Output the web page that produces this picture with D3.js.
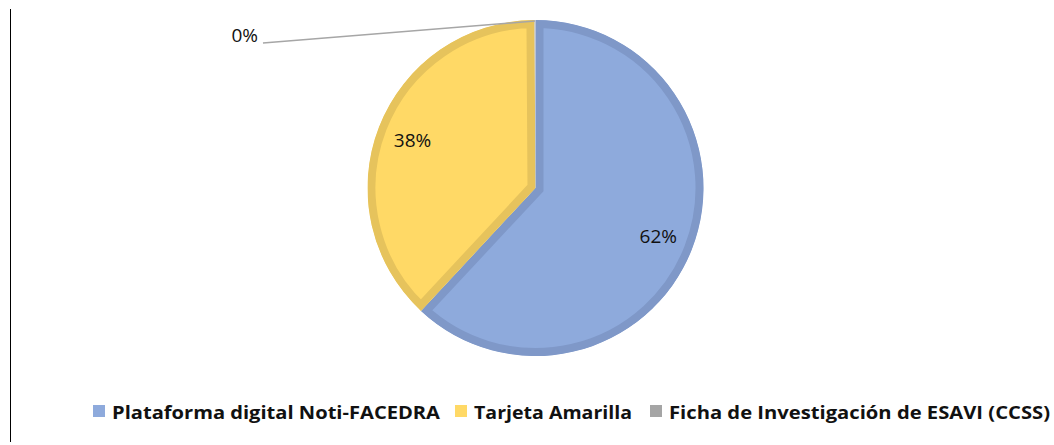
<!DOCTYPE html>
<html>
<head>
    <meta charset="utf-8">
    <style>
        body { margin: 0; background: #fff; }
        svg { display: block; }
    </style>
</head>
<body>
    <script src="https://cdn.jsdelivr.net/npm/d3@7"></script>
    <script>
        // chart data
        var categories = ["Plataforma digital Noti-FACEDRA", "Tarjeta Amarilla", "Ficha de Investigación de ESAVI (CCSS)"];
        var values = [620, 380, 1];
        var fillColors = ["#8eaadc", "#ffd966", "#a5a5a5"];
        var edgeColors = ["#7f98c8", "#e6c35c", "#d0d0d0"];

        var width = 1054, height = 445;
        var cx = 535.5, cy = 188, radius = 168;
        var edge = 8;

        var svg = d3.select("body").append("svg")
            .attr("width", width)
            .attr("height", height);

        // left border line
        svg.append("line")
            .attr("x1", 10.5).attr("x2", 10.5)
            .attr("y1", 9).attr("y2", 442)
            .attr("stroke", "#000").attr("stroke-width", 1);

        var total = d3.sum(values);
        var data = categories.map(function (c, i) {
            return { name: c, value: values[i], fill: fillColors[i], edge: edgeColors[i] };
        });

        var pie = d3.pie().sort(null).value(function (d) { return d.value; });
        var arcs = pie(data);

        var arc = d3.arc().innerRadius(0).outerRadius(radius);
        var labelArc = d3.arc().innerRadius(132).outerRadius(132);
        var outerArc = d3.arc().innerRadius(radius - 1).outerRadius(radius - 1);

        var defs = svg.append("defs");
        var g = svg.append("g").attr("transform", "translate(" + cx + "," + cy + ")");

        // slices with an inner border (stroke clipped to the slice)
        arcs.forEach(function (d, i) {
            defs.append("clipPath").attr("id", "clip" + i)
                .append("path").attr("d", arc(d));
            g.append("path")
                .attr("d", arc(d))
                .attr("clip-path", "url(#clip" + i + ")")
                .attr("fill", d.data.fill)
                .attr("stroke", d.data.edge)
                .attr("stroke-width", edge * 2)
                .attr("stroke-linejoin", "miter");
        });

        var pct = function (d) { return Math.round(d.data.value / total * 100) + "%"; };
        var labelFont = "'Open Sans', 'Liberation Sans', sans-serif";

        // labels inside big slices, leader line for the tiny one
        arcs.forEach(function (d) {
            var share = d.data.value / total;
            if (share > 0.05) {
                var c = labelArc.centroid(d);
                g.append("text")
                    .attr("x", c[0]).attr("y", c[1] + 7)
                    .attr("text-anchor", "middle")
                    .style("font-family", labelFont)
                    .style("font-size", "19px")
                    .attr("fill", "#111")
                    .text(pct(d));
            } else {
                var p = outerArc.centroid(d);
                var q = [p[0] - 272, p[1] + 22];
                g.append("polyline")
                    .attr("points", [p, q].map(function (v) { return v.join(","); }).join(" "))
                    .attr("fill", "none")
                    .attr("stroke", "#a6a6a6")
                    .attr("stroke-width", 1.5);
                g.append("text")
                    .attr("x", q[0] - 5).attr("y", q[1] - 1)
                    .attr("text-anchor", "end")
                    .style("font-family", labelFont)
                    .style("font-size", "19px")
                    .attr("fill", "#111")
                    .text(pct(d));
            }
        });

        // legend
        var legendX = [93, 455, 650];
        var legendW = [328, 158, 381];
        var legend = svg.append("g").attr("transform", "translate(0,405)");
        data.forEach(function (d, i) {
            legend.append("rect")
                .attr("x", legendX[i]).attr("y", 0)
                .attr("width", 12).attr("height", 12)
                .attr("fill", d.fill);
            legend.append("text")
                .attr("x", legendX[i] + 19).attr("y", 14)
                .attr("textLength", legendW[i])
                .attr("lengthAdjust", "spacingAndGlyphs")
                .style("font-family", labelFont)
                .style("font-size", "18.5px")
                .style("font-weight", "bold")
                .attr("fill", "#111")
                .text(d.name);
        });
    </script>
</body>
</html>
